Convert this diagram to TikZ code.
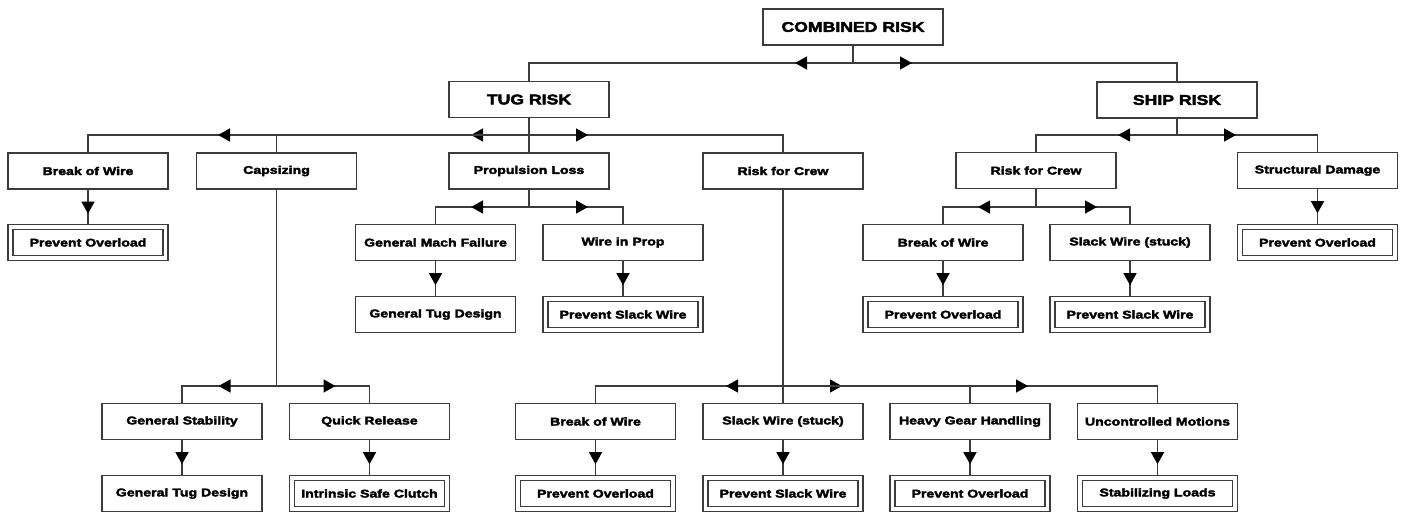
\documentclass[tikz,border=0pt]{standalone}
\usepackage{fontspec}
\newfontfamily\bx[FakeStretch=1.26,FakeBold=3]{Liberation Sans}
\usetikzlibrary{arrows.meta,decorations.markings,backgrounds}
\definecolor{linec}{HTML}{3C3C3C}
\tikzset{
  box/.style={draw=linec, line width=1.4pt, fill=white, minimum width=160pt,
    minimum height=36pt, inner sep=0pt, font=\bx\bfseries\fontsize{11.2}{13}\selectfont, text=black},
  bigbox/.style={box, font=\bx\bfseries\fontsize{14}{16}\selectfont},
  dbox/.style={box, double=white, double distance=3.6pt, minimum width=155pt, minimum height=31pt},
  conn/.style={draw=linec, line width=1.4pt},
  arrowat/.style={postaction={decorate, decoration={markings,
      mark=at position #1 with {\arrow[black]{Triangle[length=12pt,width=13pt]}}}}},
  varrow/.style={conn, arrowat=24pt}
}
\begin{document}
\begin{tikzpicture}[x=1pt,y=-1pt]
\useasboundingbox (0,0) rectangle (1405,515);
% level 0/1
\node[bigbox, minimum width=180pt] (comb) at (853,27) {COMBINED RISK};
\node[bigbox] (tug) at (529,99.5) {TUG RISK};
\node[bigbox] (ship) at (1177,100) {SHIP RISK};
% level 2
\node[box] (bow1) at (88,171) {Break of Wire};
\node[box] (caps) at (276.5,171) {Capsizing};
\node[box] (prop) at (529,171) {Propulsion Loss};
\node[box] (crew1) at (783,171) {Risk for Crew};
\node[box] (crew2) at (1036,170.5) {Risk for Crew};
\node[box] (struct) at (1317.5,170.5) {Structural Damage};
% level 3
\node[dbox] (po1) at (88,242.5) {Prevent Overload};
\node[box] (gmf) at (435.5,242.5) {General Mach Failure};
\node[box] (wip) at (623,242.5) {Wire in Prop};
\node[box] (bow3) at (943,242.5) {Break of Wire};
\node[box] (slack2) at (1130,242.5) {Slack Wire (stuck)};
\node[dbox] (po4) at (1317.5,242.5) {Prevent Overload};
% level 4
\node[box] (gtd1) at (435.5,314.5) {General Tug Design};
\node[dbox] (psw1) at (623,314.5) {Prevent Slack Wire};
\node[dbox] (po5) at (943,314.5) {Prevent Overload};
\node[dbox] (psw3) at (1130,314.5) {Prevent Slack Wire};
% level 5
\node[box] (gs) at (182,421.5) {General Stability};
\node[box] (qr) at (369.5,421.5) {Quick Release};
\node[box] (bow2) at (595.5,421.5) {Break of Wire};
\node[box] (slack1) at (783,421.5) {Slack Wire (stuck)};
\node[box] (heavy) at (970,421.5) {Heavy Gear Handling};
\node[box] (unc) at (1157.5,421.5) {Uncontrolled Motions};
% level 6
\node[box] (gtd2) at (182,493.5) {General Tug Design};
\node[dbox] (isc) at (369.5,493.5) {Intrinsic Safe Clutch};
\node[dbox] (po2) at (595.5,493.5) {Prevent Overload};
\node[dbox] (psw2) at (783,493.5) {Prevent Slack Wire};
\node[dbox] (po3) at (970,493.5) {Prevent Overload};
\node[dbox] (sl) at (1157.5,493.5) {Stabilizing Loads};
% junctions
\coordinate (jc) at (853,63);
\coordinate (jt) at (529,135);
\coordinate (js) at (1177,135);
\coordinate (jp) at (529,207);
\coordinate (jsc) at (1036,207);
\coordinate (jcap) at (276.5,386);
\coordinate (jcr) at (783,386);
\begin{pgfonlayer}{background}
\draw[conn] (comb.south) -- (jc);
\draw[conn, arrowat=58pt] (jc) -| (tug.north);
\draw[conn, arrowat=59pt] (jc) -| (ship.north);
% tug
\draw[conn] (tug.south) -- (prop.north);
\draw[conn, arrowat=58pt] (jt) -| (caps.north);
\draw[conn, arrowat=311pt] (jt) -| (bow1.north);
\draw[conn, arrowat=59pt] (jt) -| (crew1.north);
\draw[varrow] (bow1.south) -- (po1.north);
% propulsion
\draw[conn] (prop.south) -- (jp);
\draw[conn, arrowat=58pt] (jp) -| (gmf.north);
\draw[conn, arrowat=59pt] (jp) -| (wip.north);
\draw[varrow] (gmf.south) -- (gtd1.north);
\draw[varrow] (wip.south) -- (psw1.north);
% capsizing
\draw[conn] (caps.south) -- (jcap);
\draw[conn, arrowat=58pt] (jcap) -| (gs.north);
\draw[conn, arrowat=59pt] (jcap) -| (qr.north);
\draw[varrow] (gs.south) -- (gtd2.north);
\draw[varrow] (qr.south) -- (isc.north);
% tug crew
\draw[conn] (crew1.south) -- (slack1.north);
\draw[conn, arrowat=57pt] (jcr) -| (bow2.north);
\draw[conn, arrowat=59pt] (jcr) -| (heavy.north);
\draw[conn, arrowat=245pt] (jcr) -| (unc.north);
\draw[varrow] (bow2.south) -- (po2.north);
\draw[varrow] (slack1.south) -- (psw2.north);
\draw[varrow] (heavy.south) -- (po3.north);
\draw[varrow] (unc.south) -- (sl.north);
% ship
\draw[conn] (ship.south) -- (js);
\draw[conn, arrowat=59pt] (js) -| (crew2.north);
\draw[conn, arrowat=59pt] (js) -| (struct.north);
\draw[varrow] (struct.south) -- (po4.north);
\draw[conn] (crew2.south) -- (jsc);
\draw[conn, arrowat=58pt] (jsc) -| (bow3.north);
\draw[conn, arrowat=61pt] (jsc) -| (slack2.north);
\draw[varrow] (bow3.south) -- (po5.north);
\draw[varrow] (slack2.south) -- (psw3.north);
\end{pgfonlayer}
\end{tikzpicture}
\end{document}
